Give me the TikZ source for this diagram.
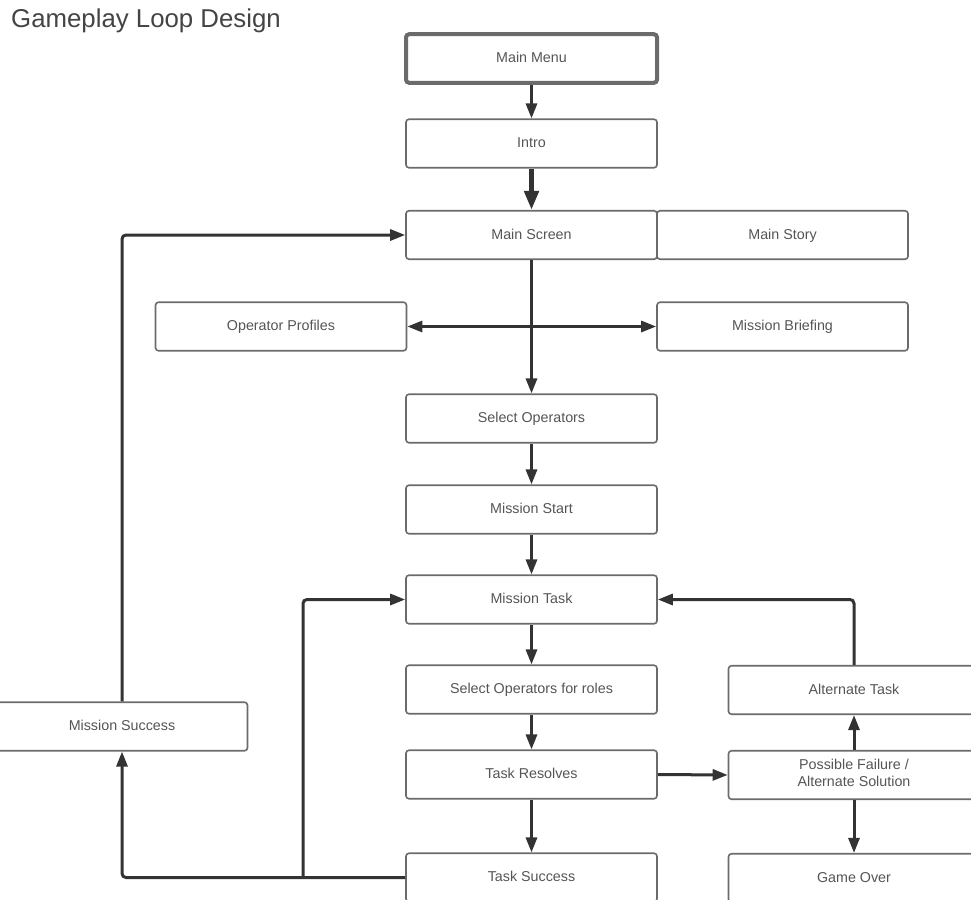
\documentclass[tikz,border=0pt]{standalone}
\usepackage{fontspec}
\setmainfont{Liberation Sans}
\usetikzlibrary{arrows.meta}
\definecolor{boxline}{HTML}{6B6B6B}
\definecolor{boxtext}{HTML}{555555}
\definecolor{conncol}{HTML}{333333}
\definecolor{titlecol}{HTML}{444444}
\tikzset{
  stepbox/.style={rectangle, rounded corners=3pt, draw=boxline, line width=1.6pt,
    minimum width=251pt, minimum height=48.5pt, inner sep=0pt, fill=white,
    text=boxtext, font=\fontsize{14.3}{17}\selectfont, align=center,
    text height=10.2pt, text depth=1.8pt},
  conn/.style={draw=conncol, line width=3pt, rounded corners=4pt,
    -{Triangle[length=15pt,width=11pt]}},
  thickconn/.style={draw=conncol, line width=5pt,
    -{Triangle[length=19pt,width=14pt]}},
}
\begin{document}
\begin{tikzpicture}[x=1pt,y=-1pt]
\useasboundingbox (0,0) rectangle (971,899);
\clip (0,0) rectangle (971,899);
\node[anchor=base west, text=titlecol, font=\fontsize{25.8}{30}\selectfont, inner sep=0pt] (title) at (11,28) {Gameplay Loop Design};

\node[stepbox, line width=4pt] (menu) at (531.5,58.5) {Main Menu};
\node[stepbox] (intro) at (531.5,143.5) {Intro};
\node[stepbox] (mscr) at (531.5,235) {Main Screen};
\node[stepbox] (story) at (782.5,235) {Main Story};
\node[stepbox] (oprof) at (281,326.5) {Operator Profiles};
\node[stepbox] (brief) at (782.5,326.5) {Mission Briefing};
\node[stepbox] (selops) at (531.5,418.5) {Select Operators};
\node[stepbox] (mstart) at (531.5,509.5) {Mission Start};
\node[stepbox] (mtask) at (531.5,599.5) {Mission Task};
\node[stepbox] (roles) at (531.5,689.5) {Select Operators for roles};
\node[stepbox] (alt) at (854,690) {Alternate Task};
\node[stepbox] (msucc) at (122,726.5) {Mission Success};
\node[stepbox] (tres) at (531.5,774.5) {Task Resolves};
\node[stepbox, text height=23.8pt] (fail) at (854,775) {Possible Failure /\\Alternate Solution};
\node[stepbox] (tsucc) at (531.5,877.5) {Task Success};
\node[stepbox] (gover) at (854,878) {Game Over};

\draw[conn] (menu) -- (intro);
\draw[thickconn] (intro) -- (mscr);
\draw[conn] (mscr) -- (selops);
\draw[conn, {Triangle[length=15pt,width=11pt]}-{Triangle[length=15pt,width=11pt]}] (oprof.east) -- (brief.west);
\draw[conn] (selops) -- (mstart);
\draw[conn] (mstart) -- (mtask);
\draw[conn] (mtask) -- (roles);
\draw[conn] (roles) -- (tres);
\draw[conn] (tres) -- (tsucc);
\draw[conn] (tres.east) -- (fail.west);
\draw[conn] (fail) -- (alt);
\draw[conn] (fail) -- (gover);
\draw[conn] (alt.north) |- (mtask.east);
\draw[conn] (tsucc.west) -| (msucc.south);
\coordinate (branch) at (303,877.5);
\draw[conn] (branch) |- (mtask.west);
\draw[conn] (msucc.north) |- (mscr.west);
\end{tikzpicture}
\end{document}
